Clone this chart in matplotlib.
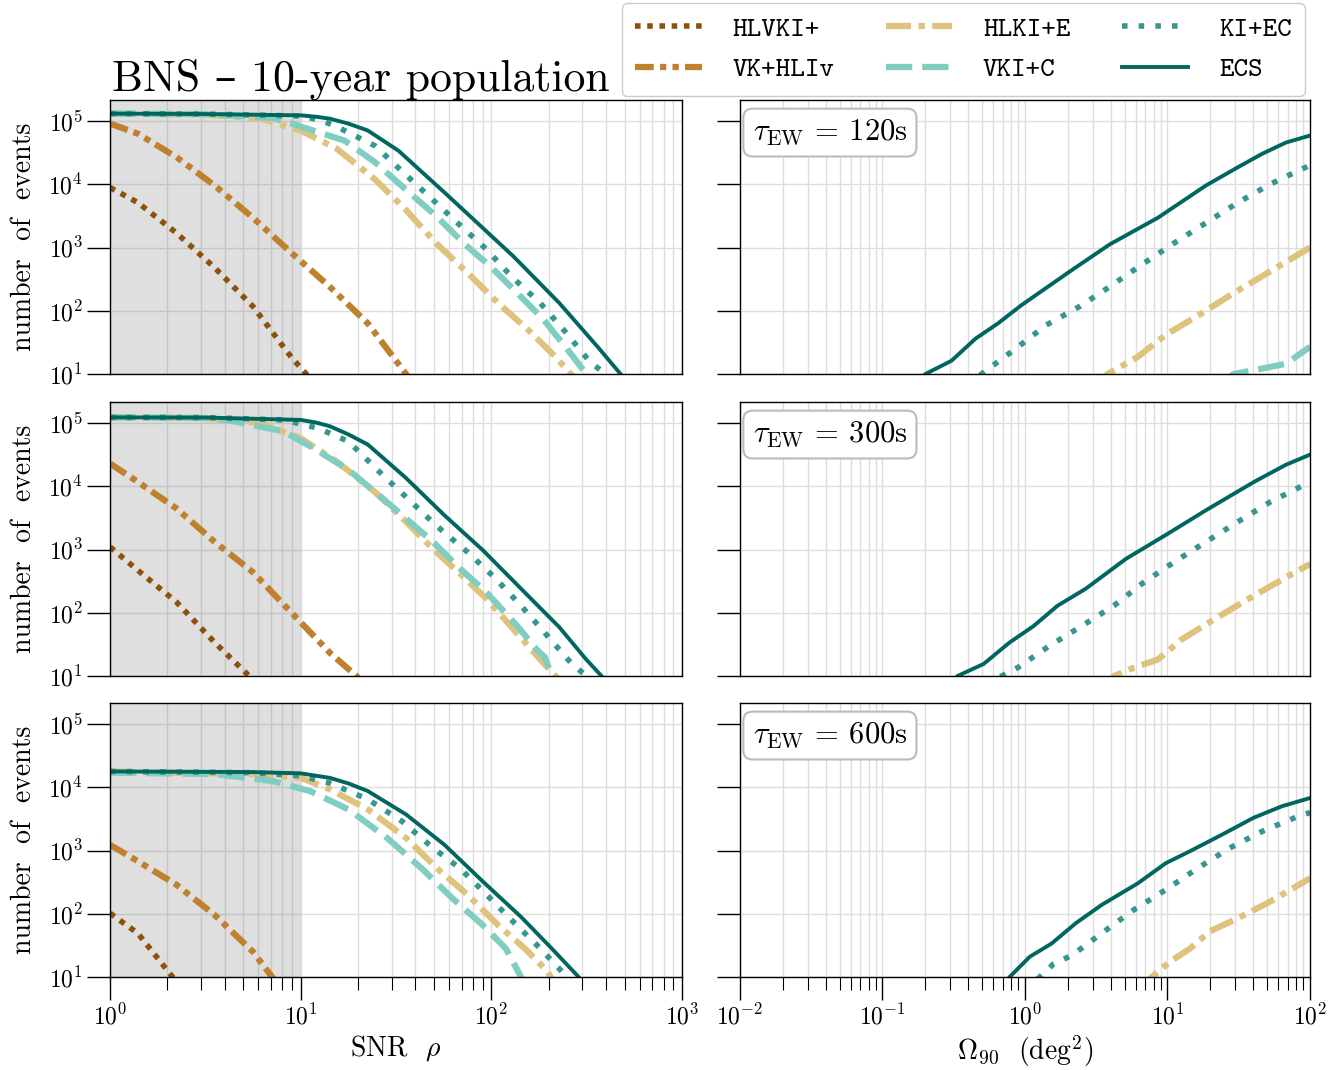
"""BNS 10-year population: cumulative event counts vs SNR and sky area."""

import matplotlib
matplotlib.use("Agg")
import matplotlib.pyplot as plt
from matplotlib.ticker import LogLocator, NullLocator, NullFormatter

plt.rcParams.update({
    "font.family": ["cmr10", "DejaVu Serif"],
    "mathtext.fontset": "cm",
    "axes.formatter.use_mathtext": True,
    "axes.unicode_minus": False,
})

# ---------------------------------------------------------------------------
# Data
# ---------------------------------------------------------------------------

NETWORKS = ["HLVKI+", "VK+HLIv", "HLKI+E", "VKI+C", "KI+EC", "ECS"]
TAU_EW = [120, 300, 600]

# --- left column: number of events above SNR rho ---
# tau = 120 s
snr_hlvki_120 = [1, 1.4, 2.23, 3.54, 5.62, 8.91, 10.7, 12.0]
n_hlvki_120 = [8.9e3, 5.13e3, 1.7e3, 479, 117, 18.6, 10, 6.3]
snr_vkhliv_120 = [1, 1.4, 2.23, 3.54, 5.62, 8.91, 14.2, 22.5, 35.7, 39.8]
n_vkhliv_120 = [9.12e4, 6.31e4, 2.69e4, 9.55e3, 2.95e3, 832, 240, 63.1, 10, 6.3]
snr_hlkie_120 = [1, 3.16, 6.17, 10, 15.5, 24.5, 35.5, 51.3, 75.0, 108.6, 157.0, 217.3, 261.2, 295.1]
n_hlkie_120 = [1.31e5, 1.26e5, 1.1e5, 7.08e4, 3.63e4, 1.2e4, 3.98e3, 1.17e3, 398, 132, 49, 18.6, 10, 6.3]
snr_vkic_120 = [1, 3.16, 7.08, 8.51, 17.0, 24.5, 35.5, 51.3, 71.6, 98.9, 136.8, 189.2, 261.2, 314.8, 354.8]
n_vkic_120 = [1.31e5, 1.29e5, 1.12e5, 9.55e4, 4.9e4, 2.24e4, 8.32e3, 3.16e3, 1.17e3, 501, 191, 70.8, 20.9, 10, 5.6]
snr_kiec_120 = [1, 3.16, 10, 12.9, 16.2, 24.5, 33.9, 47.9, 67.6, 94.4, 127.6, 180.7, 243.8, 329.6, 396.3, 446.7]
n_kiec_120 = [1.31e5, 1.29e5, 1.2e5, 1.02e5, 7.59e4, 4.07e4, 1.62e4, 6.17e3, 2.34e3, 933, 347, 132, 46.8, 15.5, 10, 6.3]
snr_ecs_120 = [1, 3.16, 10, 12.0, 14.2, 17.8, 22.5, 32.6, 56.8, 130.6, 227.5, 361, 476, 520]
n_ecs_120 = [1.31e5, 1.29e5, 1.23e5, 1.17e5, 1.09e5, 9.1e4, 7.08e4, 3.39e4, 7.41e3, 724, 132, 26.9, 10, 6.3]

# tau = 300 s
snr_hlvki_300 = [1, 1.4, 2.23, 3.54, 5.37, 6.03]
n_hlvki_300 = [1.1e3, 468, 148, 33.9, 10, 7.1]
snr_vkhliv_300 = [1, 1.4, 2.23, 3.54, 5.62, 8.91, 14.2, 19.6, 21.9]
n_vkhliv_300 = [2.29e4, 1.17e4, 4.47e3, 1.32e3, 437, 102, 23.4, 10, 7.1]
snr_hlkie_300 = [1, 3.16, 6.17, 10, 15.5, 24.5, 35.7, 49.4, 68.4, 94.4, 130.6, 180.7, 217.3, 239.9]
n_hlkie_300 = [1.23e5, 1.2e5, 1e5, 5.75e4, 2.45e4, 8.13e3, 2.75e3, 1.02e3, 417, 166, 55, 18.2, 10, 6.3]
snr_vkic_300 = [1, 3.16, 4.07, 8.13, 11.7, 17.8, 25.7, 35.7, 49.4, 68.4, 94.4, 136.8, 172.6, 190.5, 207.5, 223.9]
n_vkic_300 = [1.23e5, 1.2e5, 1.12e5, 7.41e4, 3.98e4, 1.82e4, 7.24e3, 3.09e3, 1.32e3, 501, 209, 61.7, 26.3, 20, 10, 5]
snr_kiec_300 = [1, 3.16, 8.13, 12.3, 17.8, 26.9, 37.2, 51.3, 75.0, 103.8, 143.2, 193.6, 261.2, 314.8, 354.8]
n_kiec_300 = [1.23e5, 1.22e5, 1.12e5, 8.32e4, 5.13e4, 1.51e4, 6.03e3, 2.4e3, 912, 363, 129, 45.7, 16.2, 10, 6.3]
snr_ecs_300 = [1, 3.16, 10, 12.0, 14.2, 17.8, 22.5, 35.7, 56.8, 90.2, 143.2, 227.5, 314.8, 378.4, 426.6]
n_ecs_300 = [1.23e5, 1.22e5, 1.12e5, 1.02e5, 8.91e4, 6.6e4, 4.57e4, 1.35e4, 3.47e3, 977, 240, 58.9, 18.2, 10, 6.3]

# tau = 600 s
snr_hlvki_600 = [1, 1.4, 2.13, 2.34]
n_hlvki_600 = [102, 49, 10, 7.1]
snr_vkhliv_600 = [1, 1.4, 2.23, 3.54, 5.62, 7.08, 7.94]
n_vkhliv_600 = [1.23e3, 676, 288, 95.5, 25.1, 10, 6.3]
snr_hlkie_600 = [1, 5.62, 10, 14.2, 22.5, 35.7, 51.8, 75.0, 108.6, 150.0, 198.2, 208.9]
n_hlkie_600 = [1.78e4, 1.62e4, 1.41e4, 9.33e3, 4.47e3, 1.58e3, 525, 200, 66.1, 28.2, 12, 8.9]
snr_vkic_600 = [1, 3.54, 7.08, 11.2, 17.8, 28.4, 43.0, 62.2, 90.2, 119.1, 143.2, 151.4]
n_vkic_600 = [1.7e4, 1.62e4, 1.26e4, 8.71e3, 4.47e3, 1.58e3, 525, 178, 66.1, 28.2, 10, 7.1]
snr_kiec_600 = [1, 5.62, 10, 14.2, 22.5, 34.1, 49.4, 68.4, 94.4, 130.6, 180.7, 249.5, 275.4]
n_kiec_600 = [1.78e4, 1.7e4, 1.51e4, 1.17e4, 6.46e3, 2.88e3, 1.1e3, 525, 200, 74.1, 28.2, 10, 7.1]
snr_ecs_600 = [1, 5.62, 10, 14.2, 17.8, 22.5, 35.7, 56.8, 90.2, 143.2, 207.5, 287.1, 316.2]
n_ecs_600 = [1.78e4, 1.74e4, 1.66e4, 1.41e4, 1.15e4, 8.71e3, 3.72e3, 1.23e3, 324, 89.1, 28.2, 10, 7.1]

# --- right column: number of events with 90% sky area below Omega ---
# tau = 120 s
om_hlkie_120 = [3.16, 3.8, 6.17, 9.73, 17.4, 29.2, 52.4, 100]
m_hlkie_120 = [6.3, 10, 18.6, 41.7, 91.2, 191, 417, 1e3]
om_vkic_120 = [25.1, 29.2, 40.4, 67.8, 100]
m_vkic_120 = [7.9, 10, 11.5, 14.5, 26.9]
om_kiec_120 = [0.398, 0.495, 0.859, 1.4, 2.42, 3.93, 6.61, 11.1, 18.6, 31.2, 52.4, 100]
m_kiec_120 = [6.3, 10, 25.1, 58.9, 117, 240, 537, 1.17e3, 2.45e3, 5.13e3, 1e4, 2e4]
om_ecs_120 = [0.158, 0.2, 0.305, 0.45, 0.646, 0.946, 2.06, 3.93, 8.55, 18.6, 31.2, 46.0, 67.8, 100]
m_ecs_120 = [6.3, 10, 16.2, 36.3, 63.1, 123, 417, 1.12e3, 2.95e3, 9.55e3, 1.86e4, 3.02e4, 4.57e4, 5.89e4]

# tau = 300 s
om_hlkie_300 = [3.55, 4.2, 5.79, 8.55, 12.6, 22.5, 40.4, 67.8, 100]
m_hlkie_300 = [6.3, 10, 13.5, 18.2, 38, 85.1, 186, 363, 589]
om_kiec_300 = [0.562, 0.686, 0.887, 1.49, 2.5, 4.2, 6.61, 11.1, 18.6, 31.2, 52.4, 100]
m_kiec_300 = [6.3, 10, 13.5, 30.2, 61.7, 129, 288, 631, 1.32e3, 2.75e3, 5.62e3, 1.17e4]
om_ecs_300 = [0.282, 0.336, 0.512, 0.78, 1.15, 1.69, 2.67, 5.09, 9.73, 18.6, 40.4, 67.8, 100]
m_ecs_300 = [6.3, 10, 15.5, 33.9, 61.7, 129, 240, 708, 1.7e3, 4.17e3, 1.17e4, 2.19e4, 3.16e4]

# tau = 600 s
om_hlkie_600 = [6.31, 7.76, 10.4, 14.4, 19.8, 31.2, 52.4, 100]
m_hlkie_600 = [6.3, 10, 17.4, 28.2, 52.5, 85.1, 155, 363]
om_kiec_600 = [1.0, 1.27, 1.59, 2.13, 3.45, 5.79, 9.73, 16.3, 27.4, 46.0, 82.4, 100]
m_kiec_600 = [6.3, 10, 16.2, 21.9, 49, 115, 240, 525, 1.1e3, 2e3, 3.47e3, 3.98e3]
om_ecs_600 = [0.631, 0.78, 1.08, 1.54, 2.27, 3.45, 6.18, 9.73, 14.4, 24.1, 40.4, 63.5, 100]
m_ecs_600 = [5.6, 10, 20.9, 33.9, 70.8, 138, 302, 631, 977, 1.78e3, 3.31e3, 5.01e3, 6.76e3]

# ---------------------------------------------------------------------------
# Styling
# ---------------------------------------------------------------------------

STYLES = {
    "HLVKI+": dict(color="#8c510a", lw=4.0, ls=(0, (1, 1.2))),
    "VK+HLIv": dict(color="#bf812d", lw=4.5, ls=(0, (3, 1, 1, 1, 1, 1))),
    "HLKI+E": dict(color="#dfc27d", lw=4.5, ls=(0, (4, 1.2, 1, 1.2))),
    "VKI+C": dict(color="#80cdc1", lw=4.5, ls=(0, (4.2, 1.6))),
    "KI+EC": dict(color="#35978f", lw=4.0, ls=(0, (1, 2))),
    "ECS": dict(color="#01665e", lw=2.8, ls="-"),
}

left_rows = [
    {"HLVKI+": (snr_hlvki_120, n_hlvki_120), "VK+HLIv": (snr_vkhliv_120, n_vkhliv_120),
     "HLKI+E": (snr_hlkie_120, n_hlkie_120), "VKI+C": (snr_vkic_120, n_vkic_120),
     "KI+EC": (snr_kiec_120, n_kiec_120), "ECS": (snr_ecs_120, n_ecs_120)},
    {"HLVKI+": (snr_hlvki_300, n_hlvki_300), "VK+HLIv": (snr_vkhliv_300, n_vkhliv_300),
     "HLKI+E": (snr_hlkie_300, n_hlkie_300), "VKI+C": (snr_vkic_300, n_vkic_300),
     "KI+EC": (snr_kiec_300, n_kiec_300), "ECS": (snr_ecs_300, n_ecs_300)},
    {"HLVKI+": (snr_hlvki_600, n_hlvki_600), "VK+HLIv": (snr_vkhliv_600, n_vkhliv_600),
     "HLKI+E": (snr_hlkie_600, n_hlkie_600), "VKI+C": (snr_vkic_600, n_vkic_600),
     "KI+EC": (snr_kiec_600, n_kiec_600), "ECS": (snr_ecs_600, n_ecs_600)},
]
right_rows = [
    {"HLKI+E": (om_hlkie_120, m_hlkie_120), "VKI+C": (om_vkic_120, m_vkic_120),
     "KI+EC": (om_kiec_120, m_kiec_120), "ECS": (om_ecs_120, m_ecs_120)},
    {"HLKI+E": (om_hlkie_300, m_hlkie_300),
     "KI+EC": (om_kiec_300, m_kiec_300), "ECS": (om_ecs_300, m_ecs_300)},
    {"HLKI+E": (om_hlkie_600, m_hlkie_600),
     "KI+EC": (om_kiec_600, m_kiec_600), "ECS": (om_ecs_600, m_ecs_600)},
]

GRID = dict(color="#dddddd", lw=1.0)


def _style_axis(ax, xlim, bottom_row):
    ax.set_xscale("log")
    ax.set_yscale("log")
    ax.set_xlim(*xlim)
    ax.set_ylim(10, 2.15e5)
    ax.set_axisbelow(True)
    ax.yaxis.set_major_locator(LogLocator(base=10, numticks=10))
    ax.yaxis.set_minor_locator(NullLocator())
    ax.xaxis.set_major_locator(LogLocator(base=10, numticks=10))
    ax.xaxis.set_minor_locator(LogLocator(base=10, subs=range(2, 10), numticks=20))
    ax.xaxis.set_minor_formatter(NullFormatter())
    ax.grid(True, which="major", **GRID)
    ax.grid(True, which="minor", axis="x", **GRID)
    ax.tick_params(which="major", direction="out", length=16.5, width=1.0,
                   labelsize=17, pad=3)
    ax.tick_params(which="minor", direction="out", length=9, width=0.8)
    for s in ax.spines.values():
        s.set_linewidth(1.0)
    if not bottom_row:
        ax.tick_params(axis="x", which="both", bottom=False, labelbottom=False)


# ---------------------------------------------------------------------------
# Figure
# ---------------------------------------------------------------------------

W, H = 1343, 1070
fig = plt.figure(figsize=(W / 100, H / 100), dpi=100)

row_px = [(100, 374), (402, 676), (703, 977)]
left_px = (110, 682)
right_px = (740, 1310)

handles = []
for r, (top, bot) in enumerate(row_px):
    bottom_row = r == len(row_px) - 1
    axl = fig.add_axes([left_px[0] / W, 1 - bot / H,
                        (left_px[1] - left_px[0]) / W, (bot - top) / H])
    axr = fig.add_axes([right_px[0] / W, 1 - bot / H,
                        (right_px[1] - right_px[0]) / W, (bot - top) / H])

    _style_axis(axl, (1, 1e3), bottom_row)
    _style_axis(axr, (1e-2, 1e2), bottom_row)
    axr.tick_params(axis="y", labelleft=False)

    axl.axvspan(1, 10, color="#808080", alpha=0.25, lw=0, zorder=1)

    for name in NETWORKS:
        st = STYLES[name]
        if name in left_rows[r]:
            x, y = left_rows[r][name]
            ln, = axl.plot(x, y, color=st["color"], lw=st["lw"], ls=st["ls"],
                           label=name, zorder=2)
            if r == 0:
                handles.append(ln)
        if name in right_rows[r]:
            x, y = right_rows[r][name]
            axr.plot(x, y, color=st["color"], lw=st["lw"], ls=st["ls"], zorder=2)

    axl.set_ylabel("number  of  events", fontsize=20)
    axl.yaxis.set_label_coords(-0.128, 0.5)

    axr.text(0.022, 0.935, r"$\tau_{\rm EW}$ = %ds" % TAU_EW[r], transform=axr.transAxes,
             ha="left", va="top", fontsize=22,
             bbox=dict(boxstyle="round,pad=0.3", fc="white", ec="#bbbbbb", lw=1.5))

    if bottom_row:
        axl.set_xlabel(r"SNR  $\rho$", fontsize=20, labelpad=3)
        axr.set_xlabel(r"$\Omega_{90}$  (deg$^2$)", fontsize=20, labelpad=3)

fig.text(112 / W, 1 - 90 / H, "BNS – 10-year population", fontsize=31.5,
         ha="left", va="baseline")

fig.legend(handles=handles, labels=NETWORKS, ncol=3, loc="upper right",
           bbox_to_anchor=(1305 / W, 1 - 3 / H), borderaxespad=0,
           prop={"family": "cmtt10", "size": 20}, handlelength=2.4,
           handletextpad=1.1, columnspacing=1.85, labelspacing=0.55,
           borderpad=0.48, framealpha=1.0, edgecolor="#cccccc", fancybox=True)

fig.savefig("out.png", dpi=100)
